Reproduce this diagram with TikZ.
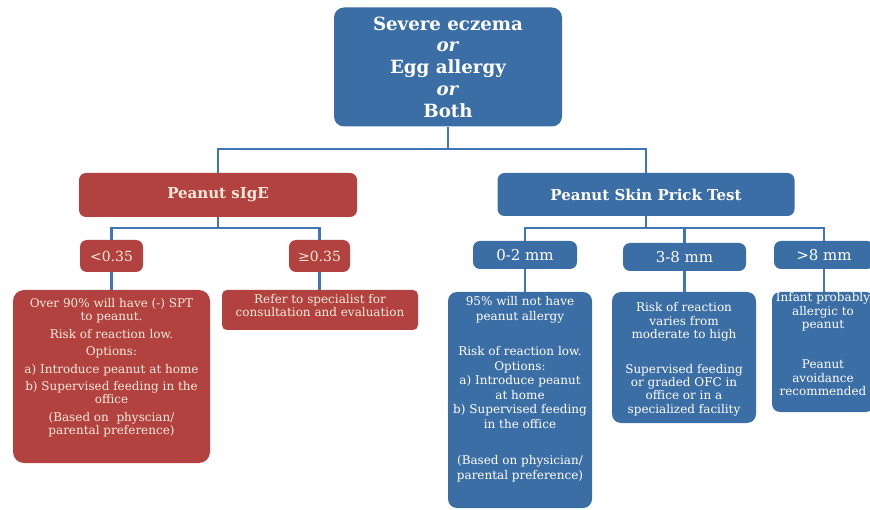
\documentclass[tikz,border=0pt]{standalone}
\usepackage{fontspec}
\setmainfont{DejaVu Serif}
\definecolor{sblue}{HTML}{3C6EA6}
\definecolor{sred}{HTML}{B2423F}
\definecolor{lblue}{HTML}{3F76B8}
\definecolor{cream}{HTML}{FBEADB}
\newcommand{\bxt}[4]{\parbox[c][#2][t]{#1}{\vspace*{#3}\noindent\makebox[#1][c]{\begin{tabular}[t]{@{}c@{}}#4\end{tabular}}}}
\newcommand{\hfont}{\fontsize{15}{18}\selectfont\bfseries}
\newcommand{\mfont}{\fontsize{15}{18}\selectfont}
\newcommand{\lfont}{\fontsize{14}{17}\selectfont}
\begin{document}
\begin{tikzpicture}[x=1pt,y=-1pt,
  box/.style={rounded corners=7pt, inner sep=0pt, align=center, anchor=center},
  bbox/.style={box, fill=sblue, text=white},
  rbox/.style={box, fill=sred, text=cream},
  conn/.style={draw=lblue, line width=2.8pt}]
\useasboundingbox (0,0) rectangle (870,510);

% top
\node[bbox, rounded corners=10pt, minimum width=228pt, minimum height=119pt,
  font=\fontsize{18.2}{21.7}\selectfont\bfseries] (top) at (448,67)
  {Severe eczema\\ \textit{or}\\ Egg allergy\\ \textit{or}\\ Both};

% level 1
\node[rbox, minimum width=278pt, minimum height=44pt, font=\hfont] (sige) at (218,195) {Peanut sIgE};
\node[bbox, minimum width=297pt, minimum height=43pt, font=\hfont] (spt) at (646,194.5) {Peanut Skin Prick Test};

% level 2
\node[rbox, minimum width=63pt, minimum height=32pt, font=\lfont] (lt) at (111.5,256) {<0.35};
\node[rbox, minimum width=61pt, minimum height=32pt, font=\lfont] (ge) at (319.5,256) {≥0.35};
\node[bbox, minimum width=104pt, minimum height=28pt, font=\mfont] (m02) at (525,255) {0-2 mm};
\node[bbox, minimum width=123pt, minimum height=28pt, font=\mfont] (m38) at (684.5,257) {3-8 mm};
\node[bbox, minimum width=100pt, minimum height=28pt, font=\mfont] (m8) at (824,255) {>8 mm};

% level 3
\node[rbox, rounded corners=11pt, font=\fontsize{12}{13}\selectfont] (d1) at (111.5,376.5)
 {\bxt{197pt}{173pt}{8.6pt}{Over 90\% will have (-) SPT\\ to peanut.\\[5pt] Risk of reaction low.\\[4pt] Options:\\[5pt] a) Introduce peanut at home\\[4pt] b) Supervised feeding in the\\ office\\[5pt] (Based on~ physcian/\\ parental preference)}};
\node[rbox, rounded corners=5pt, font=\fontsize{12}{13}\selectfont] (refer) at (320,310)
 {\bxt{196pt}{40pt}{4.6pt}{Refer to specialist for\\ consultation and evaluation}};
\node[bbox, rounded corners=9pt, font=\fontsize{12}{14.5}\selectfont] (d3) at (520,400)
 {\bxt{144pt}{216pt}{3.6pt}{95\% will not have\\ peanut allergy\\[21pt] Risk of reaction low.\\ Options:\\ a) Introduce peanut\\ at home\\ b) Supervised feeding\\ in the office\\[22pt] (Based on physician/\\ parental preference)}};
\node[bbox, rounded corners=9pt, font=\fontsize{12}{13.3}\selectfont] (d4) at (684,357.5)
 {\bxt{144pt}{131pt}{10.4pt}{Risk of reaction\\ varies from\\ moderate to high\\[21.7pt] Supervised feeding\\ or graded OFC in\\ office or in a\\ specialized facility}};
\node[bbox, rounded corners=8pt, font=\fontsize{12}{13.5}\selectfont] (d5) at (823,352)
 {\bxt{102pt}{120pt}{0.2pt}{Infant probably\\ allergic to\\ peanut\\[26.5pt] Peanut\\ avoidance\\ recommended}};

% connectors
\coordinate (j0) at (448,149);
\draw[conn] (top.south) -- (j0);
\draw[conn] (sige.north) |- (j0) -| (spt.north);
\coordinate (j1) at (218,228);
\draw[conn] (sige.south) -- (j1);
\draw[conn] (lt.north) |- (j1) -| (ge.north);
\coordinate (j2) at (646,228);
\draw[conn] (spt.south) -- (j2);
\draw[conn] (m02.north) |- (j2) -| (m8.north);
\draw[conn] (j2 -| m38.north) -- (m38.north);
\draw[conn] (lt.south) -- (lt.south |- d1.north);
\draw[conn] (ge.south) -- (ge.south |- refer.north);
\draw[conn] (m02.south) -- (m02.south |- d3.north);
\draw[conn] (m38.south) -- (m38.south |- d4.north);
\draw[conn] (m8.south) -- (m8.south |- d5.north);
\end{tikzpicture}
\end{document}
